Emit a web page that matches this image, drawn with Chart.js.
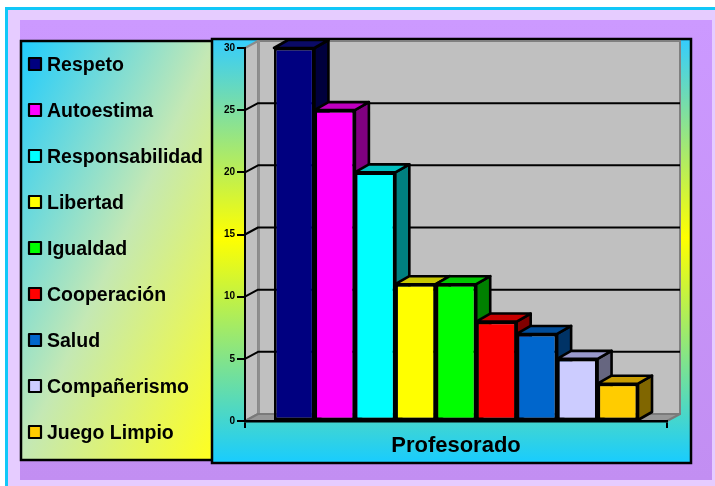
<!DOCTYPE html>
<html>
<head>
<meta charset="utf-8">
<script src="https://cdn.jsdelivr.net/npm/chart.js@4"></script>
<style>
html,body{margin:0;padding:0;background:#fff;}
#c{display:block;}
</style>
</head>
<body>
<canvas id="c" width="715" height="486"></canvas>
<script>
// ---- data ----
const categories = ['Profesorado'];
const seriesNames = ['Respeto','Autoestima','Responsabilidad','Libertad','Igualdad','Cooperación','Salud','Compañerismo','Juego Limpio'];
const seriesValues = [30, 25, 20, 11, 11, 8, 7, 5, 3];
const yTicks = [0, 5, 10, 15, 20, 25, 30];

// ---- styles ----
const frontColors = ['#000080','#FF00FF','#00FFFF','#FFFF00','#00FF00','#FF0000','#0066CC','#CCCCFF','#FFCC00'];
const topColors   = ['#0A0A66','#C000C0','#00C0C0','#C8C800','#00C800','#C80000','#004C99','#9999CC','#C89C00'];
const sideColors  = ['#00003C','#800080','#008080','#808000','#008000','#800000','#003366','#666680','#806600'];

const WDX = 13, WDY = -7;   // wall depth
const BDX = 14, BDY = -8;   // bar depth
const FONT = '"Liberation Sans", Arial, sans-serif';

function poly(ctx, pts, fill, stroke, lw) {
  ctx.beginPath();
  ctx.moveTo(pts[0][0], pts[0][1]);
  for (let i = 1; i < pts.length; i++) ctx.lineTo(pts[i][0], pts[i][1]);
  ctx.closePath();
  if (fill) { ctx.fillStyle = fill; ctx.fill(); }
  if (stroke) { ctx.strokeStyle = stroke; ctx.lineWidth = lw || 1; ctx.lineJoin = 'round'; ctx.stroke(); }
}

const scenePlugin = {
  id: 'scene',
  beforeDraw(chart) {
    const ctx = chart.ctx;
    const ys = chart.scales.y, xs = chart.scales.x;
    ctx.save();
    // page background
    ctx.fillStyle = '#FFFFFF'; ctx.fillRect(0, 0, 715, 486);
    ctx.fillStyle = '#11C8F8';
    ctx.fillRect(5, 7, 710, 3);
    ctx.fillRect(5, 7, 3, 479);
    ctx.fillStyle = '#E6CCFF'; ctx.fillRect(8, 10, 707, 476);
    let g = ctx.createLinearGradient(0, 20, 0, 480);
    g.addColorStop(0, '#CC99FF'); g.addColorStop(1, '#C28EF2');
    ctx.fillStyle = g; ctx.fillRect(20, 20, 692, 460);

    // legend box (diagonal gradient in box-normalised space)
    ctx.save();
    ctx.translate(20, 40); ctx.scale(194, 420);
    g = ctx.createLinearGradient(0, 0, 1, 1);
    g.addColorStop(0, '#1ECCFF'); g.addColorStop(0.5, '#C4E8B4'); g.addColorStop(1, '#FFFF1E');
    ctx.fillStyle = g; ctx.fillRect(0, 0, 1, 1);
    ctx.restore();
    ctx.strokeStyle = '#000'; ctx.lineWidth = 2.5;
    ctx.strokeRect(21, 41, 193, 419);

    // chart box
    g = ctx.createLinearGradient(0, 38, 0, 463);
    g.addColorStop(0, '#33CCFF'); g.addColorStop(0.47, '#FFFF00'); g.addColorStop(1, '#18CCFF');
    ctx.fillStyle = g; ctx.fillRect(212, 39, 479, 424);
    ctx.strokeStyle = '#000'; ctx.lineWidth = 2.5;
    ctx.strokeRect(212, 39, 479, 424);

    // walls
    const L = xs.left, R = xs.right;
    const y0 = ys.getPixelForValue(0), yTop = ys.getPixelForValue(yTicks[yTicks.length - 1]);
    // back wall
    poly(ctx, [[L + WDX, yTop + WDY], [R + WDX, yTop + WDY], [R + WDX, y0 + WDY], [L + WDX, y0 + WDY]], '#C0C0C0', '#808080', 2);
    // left wall
    poly(ctx, [[L, yTop], [L + WDX, yTop + WDY], [L + WDX, y0 + WDY], [L, y0]], '#C0C0C0', '#8A8A8A', 2);
    ctx.fillStyle = '#8E8E8E'; ctx.fillRect(L + WDX, yTop + WDY, 2, y0 - yTop);
    // floor
    poly(ctx, [[L, y0], [L + WDX, y0 + WDY], [R + WDX, y0 + WDY], [R, y0]], '#979797', '#7A7A7A', 2);
    // grid lines on walls
    for (const v of yTicks) {
      if (v === 0 || v === yTicks[yTicks.length - 1]) continue;
      const y = ys.getPixelForValue(v);
      ctx.beginPath();
      ctx.moveTo(L, y); ctx.lineTo(L + WDX, y + WDY); ctx.lineTo(R + WDX, y + WDY);
      ctx.strokeStyle = '#000'; ctx.lineWidth = 2; ctx.stroke();
    }

    // legend entries
    ctx.textBaseline = 'middle'; ctx.textAlign = 'left';
    ctx.font = 'bold 19.5px ' + FONT;
    chart.data.datasets.forEach((ds, i) => {
      const cy = 64 + i * 46;
      ctx.fillStyle = ds.backgroundColor;
      ctx.fillRect(29, cy - 6, 12, 12);
      ctx.strokeStyle = '#000'; ctx.lineWidth = 2.2;
      ctx.strokeRect(29, cy - 6, 12, 12);
      ctx.fillStyle = '#000';
      ctx.fillText(ds.label, 47, cy + 2);
    });
    ctx.restore();
  },
  beforeDatasetsDraw(chart) {
    const ctx = chart.ctx;
    ctx.save();
    chart.data.datasets.forEach((ds, i) => {
      const meta = chart.getDatasetMeta(i);
      meta.data.forEach(el => {
        const p = el.getProps(['x', 'y', 'base', 'width'], true);
        const l = p.x - p.width / 2, r = p.x + p.width / 2;
        // side
        poly(ctx, [[r, p.y], [r + BDX, p.y + BDY], [r + BDX, p.base + BDY], [r, p.base]], sideColors[i], '#000', 2.6);
        // top
        poly(ctx, [[l, p.y], [l + BDX, p.y + BDY], [r + BDX, p.y + BDY], [r, p.y]], topColors[i], '#000', 2.6);
      });
    });
    ctx.restore();
  }
};

const datasets = seriesNames.map((name, i) => ({
  label: name,
  data: [seriesValues[i]],
  backgroundColor: frontColors[i],
  borderColor: '#000000',
  borderWidth: 2.6,
  borderSkipped: false,
  categoryPercentage: 0.8626,
  barPercentage: 1.0
}));

new Chart(document.getElementById('c'), {
  type: 'bar',
  data: { labels: categories, datasets },
  plugins: [scenePlugin],
  options: {
    responsive: false,
    animation: false,
    devicePixelRatio: 1,
    layout: { padding: { top: 48, right: 48, bottom: 0, left: 0 } },
    plugins: { legend: { display: false }, tooltip: { enabled: false } },
    scales: {
      y: {
        min: 0, max: 30,
        afterFit(s) { s.width = 245; },
        afterBuildTicks(s) { s.ticks = yTicks.map(v => ({ value: v })); },
        ticks: { color: '#000', font: { family: FONT, size: 10, weight: 'bold' }, padding: 2 },
        grid: { drawOnChartArea: false, drawTicks: true, tickLength: 8, color: '#000', lineWidth: 2 },
        border: { display: true, color: '#000', width: 2 }
      },
      x: {
        afterFit(s) { s.height = 486 - 421; },
        ticks: { color: '#000', font: { family: FONT, size: 22, weight: 'bold' }, padding: 5 },
        grid: { drawOnChartArea: false, drawTicks: true, tickLength: 7, color: '#000', lineWidth: 2, offset: true },
        border: { display: true, color: '#000', width: 2.5 }
      }
    }
  }
});
</script>
</body>
</html>
